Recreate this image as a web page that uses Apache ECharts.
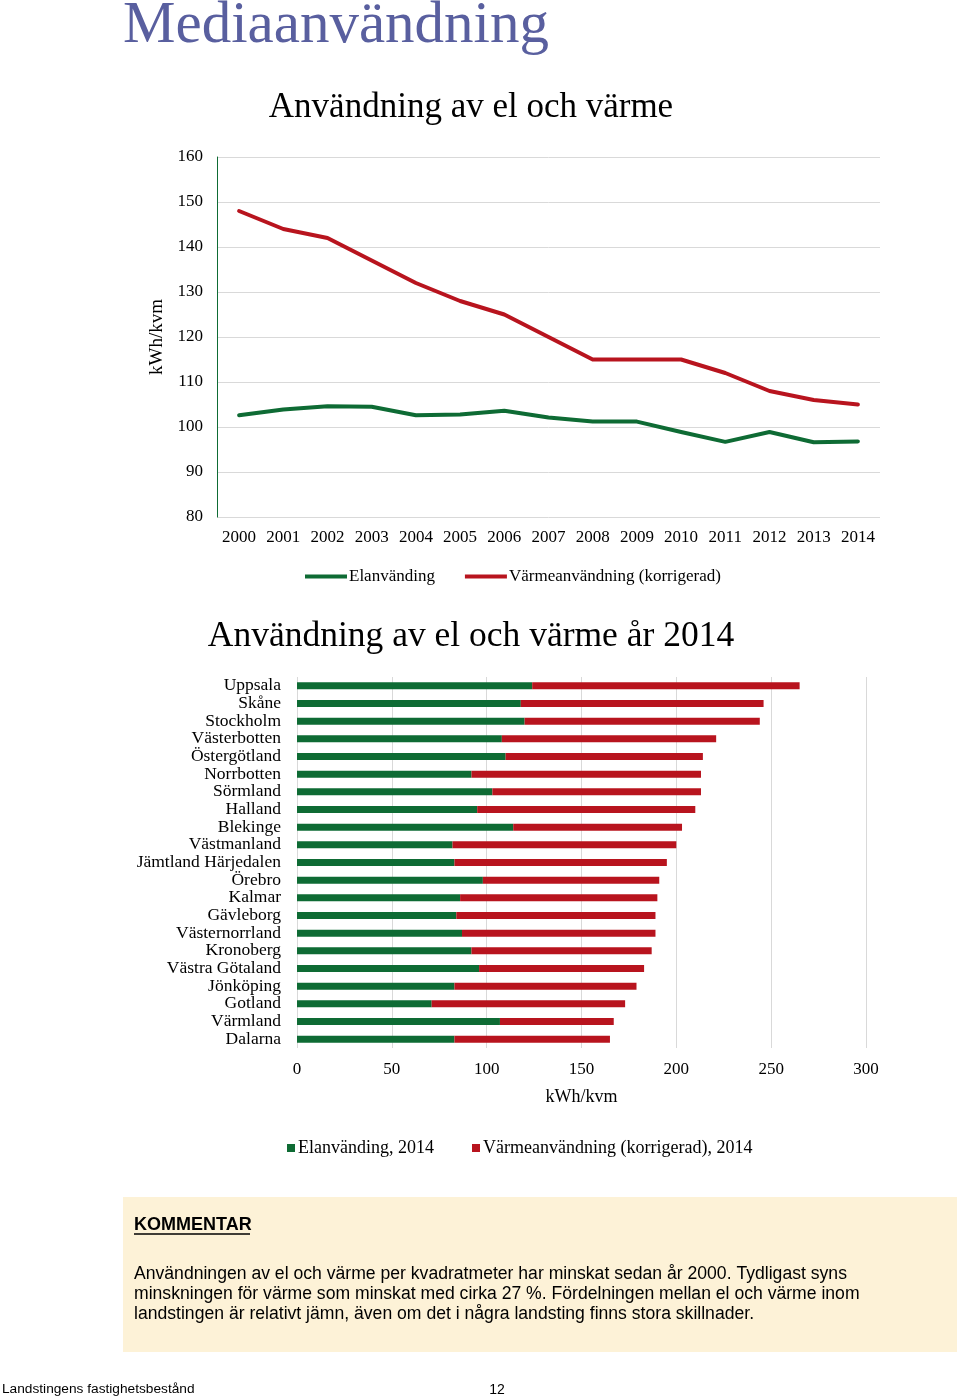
<!DOCTYPE html>
<html>
<head>
<meta charset="utf-8">
<script src="https://cdn.jsdelivr.net/npm/echarts@6/dist/echarts.min.js"></script>
<style>
html,body{margin:0;padding:0;background:#fff;}
#c{width:960px;height:1397px;}
</style>
</head>
<body>
<div id="c"></div>
<script>
// ---- Data ----
const years = ['2000','2001','2002','2003','2004','2005','2006','2007','2008','2009','2010','2011','2012','2013','2014'];
const elYear = [102.6,103.9,104.6,104.5,102.6,102.8,103.6,102.1,101.2,101.2,98.9,96.7,98.9,96.6,96.8];
const heatYear = [148,144,142,137,132,128,125,120,115,115,115,112,108,106,105];

const regions = ['Uppsala','Skåne','Stockholm','Västerbotten','Östergötland','Norrbotten','Sörmland','Halland','Blekinge','Västmanland','Jämtland Härjedalen','Örebro','Kalmar','Gävleborg','Västernorrland','Kronoberg','Västra Götaland','Jönköping','Gotland','Värmland','Dalarna'];
const el2014 = [124,118,120,108,110,92,103,95,114,82,83,98,86,84,87,92,96,83,71,107,83];
const heat2014 = [141,128,124,113,104,121,110,115,89,118,112,93,104,105,102,95,87,96,102,60,82];

const lineTicks = {min:80, max:160, interval:10};
const barTicks = {min:0, max:300, interval:50};

const GREEN = '#0e6b34';
const RED = '#b8141e';
const SERIF = '"Liberation Serif","Times New Roman",serif';
const SANS = '"Liberation Sans",Arial,sans-serif';

const chart = echarts.init(document.getElementById('c'), null, {renderer:'canvas'});
const option = {
  animation:false,
  backgroundColor:'#ffffff',
  textStyle:{fontFamily:SERIF, color:'#000'},
  grid:[
    {left:217, top:157, width:663, height:360},
    {left:297, top:677, width:569, height:371}
  ],
  xAxis:[
    {type:'category', gridIndex:0, data:years, boundaryGap:true,
     axisLine:{show:false}, axisTick:{show:false},
     axisLabel:{fontFamily:SERIF, fontSize:17, color:'#000', margin:12, interval:0}},
    {type:'value', gridIndex:1, min:barTicks.min, max:barTicks.max, interval:barTicks.interval,
     axisLine:{show:false}, axisTick:{show:false},
     splitLine:{show:true, lineStyle:{color:'#d9d9d9', width:1}},
     axisLabel:{fontFamily:SERIF, fontSize:17, color:'#000', margin:13},
     name:'kWh/kvm', nameLocation:'middle', nameGap:40,
     nameTextStyle:{fontFamily:SERIF, fontSize:18, color:'#000'}}
  ],
  yAxis:[
    {type:'value', gridIndex:0, min:lineTicks.min, max:lineTicks.max, interval:lineTicks.interval,
     axisLine:{show:true, lineStyle:{color:GREEN, width:1}}, axisTick:{show:false},
     splitLine:{show:true, lineStyle:{color:'#d9d9d9', width:1}},
     axisLabel:{fontFamily:SERIF, fontSize:17, color:'#000', margin:14},
     name:'kWh/kvm', nameLocation:'middle', nameGap:48, nameRotate:90,
     nameTextStyle:{fontFamily:SERIF, fontSize:19, color:'#000'}},
    {type:'category', gridIndex:1, data:regions, inverse:true,
     axisLine:{show:false}, axisTick:{show:false},
     axisLabel:{fontFamily:SERIF, fontSize:17.5, color:'#000', margin:16, interval:0}}
  ],
  legend:[
    {data:['Elanvänding','Värmeanvändning (korrigerad)'], left:300, top:563,
     icon:'rect', itemWidth:42, itemHeight:4, itemGap:30,
     textStyle:{fontFamily:SERIF, fontSize:17, color:'#000', padding:[0,0,0,-3]}},
    {data:['Elanvänding, 2014','Värmeanvändning (korrigerad), 2014'], left:282, top:1134,
     icon:'rect', itemWidth:8, itemHeight:8, itemGap:38,
     textStyle:{fontFamily:SERIF, fontSize:18, color:'#000', padding:[0,0,0,-2]}}
  ],
  series:[
    {name:'Elanvänding', type:'line', xAxisIndex:0, yAxisIndex:0, data:elYear,
     showSymbol:false, symbol:'none', lineStyle:{color:GREEN, width:4, cap:'round', join:'round'}, itemStyle:{color:GREEN}},
    {name:'Värmeanvändning (korrigerad)', type:'line', xAxisIndex:0, yAxisIndex:0, data:heatYear,
     showSymbol:false, symbol:'none', lineStyle:{color:RED, width:4, cap:'round', join:'round'}, itemStyle:{color:RED}},
    {name:'Elanvänding, 2014', type:'bar', xAxisIndex:1, yAxisIndex:1, stack:'tot', data:el2014,
     barWidth:7, itemStyle:{color:GREEN}},
    {name:'Värmeanvändning (korrigerad), 2014', type:'bar', xAxisIndex:1, yAxisIndex:1, stack:'tot', data:heat2014,
     barWidth:7, itemStyle:{color:RED}}
  ],
  graphic:[
    {type:'text', x:123, y:26, style:{text:'Mediaanvändning', font:'59px '+SERIF, fill:'#595f9f', verticalAlign:'middle', align:'left'}},
    {type:'text', x:471, y:108, style:{text:'Användning av el och värme', font:'35px '+SERIF, fill:'#000', verticalAlign:'middle', align:'center'}},
    {type:'text', x:471, y:637, style:{text:'Användning av el och värme år 2014', font:'35.5px '+SERIF, fill:'#000', verticalAlign:'middle', align:'center'}},
    {type:'rect', shape:{x:123, y:1197, width:834, height:155}, style:{fill:'#fdf2d7'}, z:-1},
    {type:'text', x:134, y:1225, style:{text:'KOMMENTAR', font:'bold 18px '+SANS, fill:'#000', verticalAlign:'middle', align:'left'}},
    {type:'line', shape:{x1:134, y1:1234, x2:250, y2:1234}, style:{stroke:'#000', lineWidth:1.5}},
    {type:'text', x:134, y:1274, style:{text:'Användningen av el och värme per kvadratmeter har minskat sedan år 2000. Tydligast syns', font:'17.6px '+SANS, fill:'#000', verticalAlign:'middle', align:'left'}},
    {type:'text', x:134, y:1294, style:{text:'minskningen för värme som minskat med cirka 27 %. Fördelningen mellan el och värme inom', font:'17.6px '+SANS, fill:'#000', verticalAlign:'middle', align:'left'}},
    {type:'text', x:134, y:1314, style:{text:'landstingen är relativt jämn, även om det i några landsting finns stora skillnader.', font:'17.6px '+SANS, fill:'#000', verticalAlign:'middle', align:'left'}},
    {type:'text', x:2, y:1389, style:{text:'Landstingens fastighetsbestånd', font:'13.7px '+SANS, fill:'#000', verticalAlign:'middle', align:'left'}},
    {type:'text', x:497, y:1390, style:{text:'12', font:'14px '+SANS, fill:'#000', verticalAlign:'middle', align:'center'}}
  ]
};
chart.setOption(option);
</script>
</body>
</html>
